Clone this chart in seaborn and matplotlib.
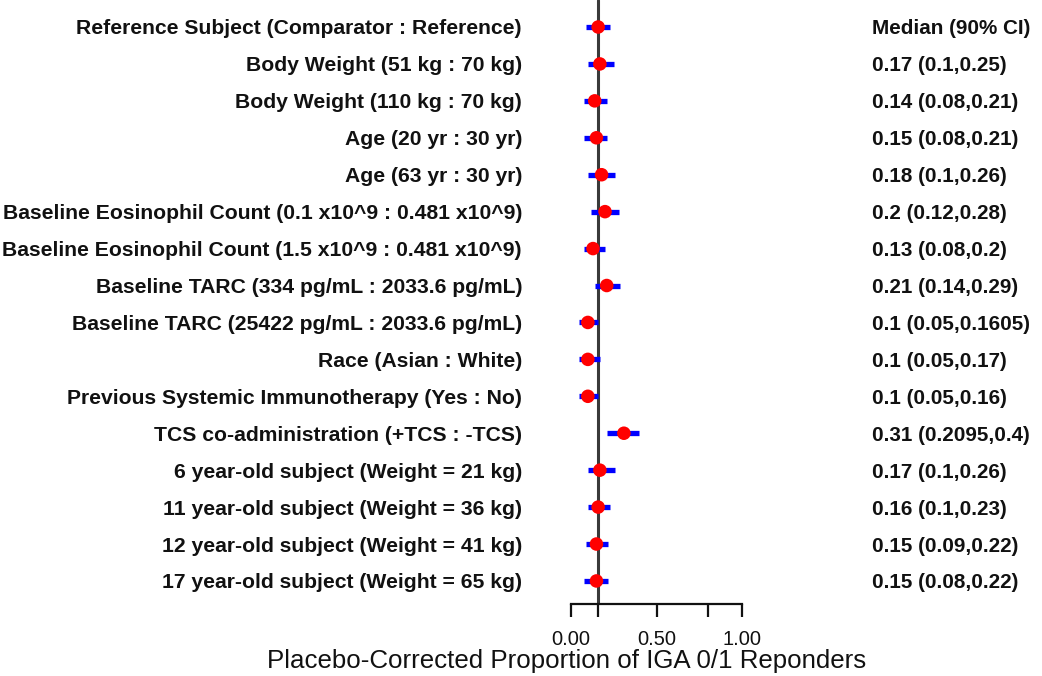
import matplotlib
matplotlib.use("Agg")
import matplotlib.pyplot as plt
import matplotlib.transforms as mtransforms
import numpy as np
import pandas as pd
import seaborn as sns

# Covariate effects on placebo-corrected IGA 0/1 response
labels = [
    "Reference Subject (Comparator : Reference)",
    "Body Weight (51 kg : 70 kg)",
    "Body Weight (110 kg : 70 kg)",
    "Age (20 yr : 30 yr)",
    "Age (63 yr : 30 yr)",
    "Baseline Eosinophil Count (0.1 x10^9 : 0.481 x10^9)",
    "Baseline Eosinophil Count (1.5 x10^9 : 0.481 x10^9)",
    "Baseline TARC (334 pg/mL : 2033.6 pg/mL)",
    "Baseline TARC (25422 pg/mL : 2033.6 pg/mL)",
    "Race (Asian : White)",
    "Previous Systemic Immunotherapy (Yes : No)",
    "TCS co-administration (+TCS : -TCS)",
    "6 year-old subject (Weight = 21 kg)",
    "11 year-old subject (Weight = 36 kg)",
    "12 year-old subject (Weight = 41 kg)",
    "17 year-old subject (Weight = 65 kg)",
]
median = [0.16, 0.17, 0.14, 0.15, 0.18, 0.2, 0.13, 0.21, 0.1, 0.1, 0.1,
          0.31, 0.17, 0.16, 0.15, 0.15]
ci_low = [0.09, 0.1, 0.08, 0.08, 0.1, 0.12, 0.08, 0.14, 0.05, 0.05, 0.05,
          0.2095, 0.1, 0.1, 0.09, 0.08]
ci_high = [0.23, 0.25, 0.21, 0.21, 0.26, 0.28, 0.2, 0.29, 0.1605, 0.17, 0.16,
           0.4, 0.26, 0.23, 0.22, 0.22]
header_text = "Median (90% CI)"
x_ticks = [0.0, 0.16, 0.5, 0.8, 1.0]
x_tick_labels = ["0.00", "", "0.50", "", "1.00"]
x_label = "Placebo-Corrected Proportion of IGA 0/1 Reponders"

df = pd.DataFrame({"label": labels, "median": median,
                   "low": ci_low, "high": ci_high})
df["row"] = np.arange(len(df))

sns.set_theme(style="white")
plt.rcParams["font.family"] = ["Liberation Sans", "DejaVu Sans"]

W, H, DPI = 1042, 676, 100
fig = plt.figure(figsize=(W / DPI, H / DPI), dpi=DPI)

# layout in pixels
ax_left, ax_right = 250, 880
x0_px, x1_px = 570.7, 742.3          # pixel positions of 0 and 1 on the x axis
row0_px, row_step = 27.0, 36.93      # first row centre and row spacing
axis_px = 604.0                      # y position of the x axis line
label_right_px, value_left_px = 522, 872

ax = fig.add_axes([ax_left / W, (H - axis_px) / H,
                   (ax_right - ax_left) / W, axis_px / H])
ppu = x1_px - x0_px
ax.set_xlim((ax_left - x0_px) / ppu, (ax_right - x0_px) / ppu)
ax.set_ylim((axis_px - row0_px) / row_step, -row0_px / row_step)

# reference line at the reference subject's median
ax.axvline(df["median"].iloc[0], color="#3a3a3a", lw=2.2, zorder=1)

# 90% CI bars and medians
ax.hlines(df["row"], df["low"], df["high"], color="#0000ff", lw=3.8, zorder=2)
sns.scatterplot(data=df, x="median", y="row", ax=ax, color="#ff0000",
                s=95, marker="o", edgecolor="none", zorder=3, legend=False)

# row labels and value columns
trans_left = mtransforms.blended_transform_factory(fig.transFigure, ax.transData)
for i, r in df.iterrows():
    ax.text(label_right_px / W, r["row"], r["label"], transform=trans_left,
            ha="right", va="center_baseline", fontsize=15.2,
            fontweight="bold", color="#111111")
    txt = header_text if i == 0 else f"{r['median']:g} ({r['low']:g},{r['high']:g})"
    ax.text(value_left_px / W, r["row"], txt, transform=trans_left,
            ha="left", va="center_baseline", fontsize=14.9,
            fontweight="bold", color="#111111")

# x axis styled as a bounded base-graphics axis
for s in ["left", "right", "top"]:
    ax.spines[s].set_visible(False)
ax.spines["bottom"].set_bounds(0, 1)
ax.spines["bottom"].set_color("#111111")
ax.spines["bottom"].set_linewidth(1.6)
ax.set_yticks([])
ax.set_xticks(x_ticks)
ax.set_xticklabels(x_tick_labels)
ax.tick_params(axis="x", direction="out", length=9, width=1.6,
               color="#111111", pad=10, labelsize=14.5, labelcolor="#111111",
               bottom=True)
ax.set_xlabel(x_label, fontsize=18.6, color="#111111")
ax.set_ylabel("")
ax.xaxis.set_label_coords((567 - ax_left) / (ax_right - ax_left),
                          -(661 - axis_px) / axis_px)
ax.xaxis.label.set_va("center")

fig.savefig("out.png", dpi=DPI)
